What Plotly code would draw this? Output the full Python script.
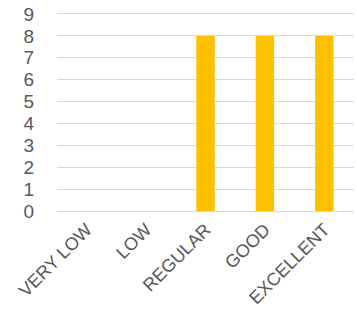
import plotly.graph_objects as go

categories = ["VERY LOW", "LOW", "REGULAR", "GOOD", "EXCELLENT"]
values = [0, 0, 8, 8, 8]
y_ticks = list(range(0, 10))

fig = go.Figure(go.Bar(
    x=categories, y=values,
    marker=dict(color="#FFC000", line=dict(width=0)),
))
fig.update_layout(
    width=357, height=322,
    margin=dict(l=57, r=3, t=14, b=111),
    paper_bgcolor="white", plot_bgcolor="white",
    bargap=0.69,
    showlegend=False,
    font=dict(family="Liberation Sans, Arial, sans-serif", size=16, color="#595959"),
)
fig.update_xaxes(tickangle=-45, showgrid=False, showline=True, mirror=True,
                 linecolor="#d9d9d9", linewidth=1,
                 ticks="", automargin=False, ticklabeloverflow="allow",
                 tickfont=dict(size=18, color="#595959"))
fig.update_yaxes(range=[0, 9], tickvals=y_ticks, showgrid=True, gridcolor="#d9d9d9", gridwidth=1,
                 zeroline=False, showline=False, ticks="", ticklabelstandoff=22, automargin=False,
                 ticklabeloverflow="allow", tickfont=dict(size=19, color="#595959"))
fig.write_html(
    "out.html",
    config={"displayModeBar": False},
    post_script="document.body.style.margin='0';document.body.style.overflow='hidden';",
)
